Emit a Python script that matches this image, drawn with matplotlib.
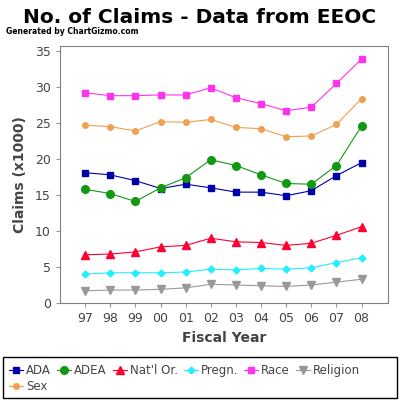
import numpy as np
from matplotlib import pyplot as plt
from matplotlib.patches import Rectangle

years = ['97', '98', '99', '00', '01', '02', '03', '04', '05', '06', '07', '08']

# claims in thousands
ada = [18.1, 17.8, 17.0, 15.9, 16.5, 16.0, 15.4, 15.4, 14.9, 15.6, 17.7, 19.5]
adea = [15.8, 15.2, 14.1, 16.0, 17.4, 19.9, 19.1, 17.8, 16.6, 16.5, 19.1, 24.6]
natl_or = [6.7, 6.8, 7.1, 7.8, 8.0, 9.0, 8.5, 8.4, 8.0, 8.3, 9.4, 10.6]
pregn = [4.0, 4.2, 4.2, 4.2, 4.3, 4.7, 4.6, 4.8, 4.7, 4.9, 5.6, 6.3]
race = [29.2, 28.8, 28.8, 28.9, 28.9, 29.9, 28.5, 27.7, 26.7, 27.2, 30.5, 33.9]
religion = [1.7, 1.8, 1.8, 1.9, 2.1, 2.6, 2.5, 2.4, 2.3, 2.5, 2.9, 3.3]
sex = [24.7, 24.5, 23.9, 25.2, 25.1, 25.5, 24.4, 24.2, 23.1, 23.2, 24.8, 28.4]

txt = '#444444'
fig = plt.figure(figsize=(4, 4), dpi=100)
ax = fig.add_axes([0.15, 0.2425, 0.82, 0.6425])

x = np.arange(len(years))
lines = {}
lines['ADA'] = ax.plot(x, ada, color='#0000aa', marker='s', ms=5, lw=0.8, label='ADA')[0]
lines['ADEA'] = ax.plot(x, adea, color='#119911', marker='o', ms=5.5, lw=0.8, label='ADEA')[0]
lines['Nat'] = ax.plot(x, natl_or, color='#ff0033', marker='^', ms=5.5, lw=0.8, label="Nat'l Or.")[0]
lines['Pregn'] = ax.plot(x, pregn, color='#22eeff', marker='D', ms=3.5, lw=0.8, label='Pregn.')[0]
lines['Race'] = ax.plot(x, race, color='#ff33ee', marker='s', ms=4, lw=0.8, label='Race')[0]
lines['Religion'] = ax.plot(x, religion, color='#999999', marker='v', ms=5.5, lw=0.8, label='Religion')[0]
lines['Sex'] = ax.plot(x, sex, color='#f0a050', marker='o', ms=4, lw=0.8, label='Sex')[0]

ax.set_xlim(-1, 12.05)
ax.set_ylim(0, 35.7)
ax.set_xticks(x)
ax.set_xticklabels(years)
ax.set_yticks(range(0, 36, 5))
for s in ax.spines.values():
    s.set_color('#808080')
ax.tick_params(colors='#999999', labelcolor=txt, labelsize=9, length=3)
ax.set_xlabel('Fiscal Year', fontsize=10, fontweight='bold', color=txt)
ax.set_ylabel('Claims (x1000)', fontsize=10, fontweight='bold', color=txt, labelpad=6)

fig.text(0.5, 0.957, 'No. of Claims - Data from EEOC', ha='center', va='center',
         fontsize=14.5, fontweight='bold')
fig.text(0.015, 0.922, 'Generated by ChartGizmo.com', ha='left', va='center',
         fontsize=5.5, fontweight='bold')

fig.patches.append(Rectangle((0.0075, 0.005), 0.985, 0.103, transform=fig.transFigure,
                             fill=False, edgecolor='black', lw=1))
order = ['ADA', 'Sex', 'ADEA', 'Nat', 'Pregn', 'Race', 'Religion']
handles = [lines[k] for k in order]
leg = fig.legend(handles, [h.get_label() for h in handles], loc='upper left',
                 bbox_to_anchor=(0.005, 0.108), ncol=6, frameon=False, fontsize=8.5,
                 handlelength=1.2, handletextpad=0.25, columnspacing=0.5,
                 labelspacing=0.25, borderaxespad=0.2, labelcolor=txt)

fig.savefig('out.png', dpi=100)
